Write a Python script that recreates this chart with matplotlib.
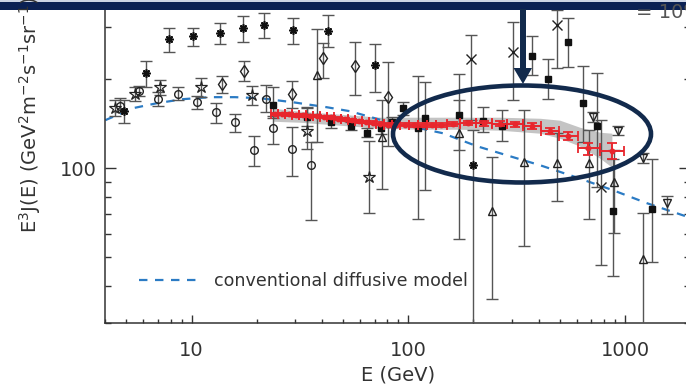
import numpy as np
import matplotlib
matplotlib.use("Agg")
import matplotlib.pyplot as plt
import matplotlib.ticker as mticker
from matplotlib.patches import Ellipse, Rectangle, Polygon

# conventional diffusive model
model_E = [4.0, 5.36, 6.92, 9.12, 12.15, 15.84, 20.7, 29.3, 42.1, 53.8, 75.5,
           101.7, 144.4, 207.3, 294.4, 404.9, 575.0, 879.5, 1262, 1910]
model_J = [145.3, 159.5, 165.8, 171.1, 173.8, 173.8, 172.4, 167.1, 160.7, 155.8,
           145.3, 138.7, 131.3, 118.7, 109.8, 102.4, 94.0, 84.3, 76.2, 68.8]

# red spectrum with systematic band
red_E = [24.2, 26.1, 28.1, 30.3, 32.6, 35.2, 37.9, 40.8, 44.0, 47.3, 51.0, 54.9,
         59.2, 63.7, 68.7, 74.0, 80.5, 87.7, 96.5, 106.1, 116.8, 128.5, 141.4,
         160.7, 188.4, 223.4, 264.7, 310.5, 371.9, 450.3, 545.1, 674.3, 870.2]
red_J = [152.2, 152.2, 151.9, 151.0, 151.0, 150.2, 149.9, 149.1, 148.4, 147.2,
         146.4, 145.3, 144.1, 143.3, 142.7, 141.6, 140.5, 140.3, 140.3, 139.9,
         139.7, 139.7, 139.7, 140.8, 142.2, 141.9, 141.4, 140.8, 139.4, 133.7,
         128.3, 116.6, 114.4]
red_err = [1.5, 1.5, 1.5, 1.5, 1.5, 1.5, 1.5, 1.5, 1.5, 1.5, 1.5, 1.5, 1.5, 1.5,
           1.5, 1.5, 1.5, 1.8, 1.8, 1.8, 2.0, 2.0, 2.0, 2.2, 2.5, 2.5, 3.0, 3.0,
           3.3, 3.3, 4.0, 5.5, 7.3]
band_E = [23.7, 31.6, 48.4, 74.0, 113.1, 173.0, 264.7, 404.9, 500.7, 619.4, 766.1, 870.2]
band_lo = [144.1, 143.0, 139.7, 136.5, 135.4, 135.4, 134.4, 131.3, 126.3, 118.7, 108.1, 100.8]
band_hi = [159.5, 155.8, 152.2, 148.7, 148.7, 148.7, 148.7, 147.5, 145.3, 137.5, 132.3, 131.3]

# other measurements: energy, value, lower and upper end of the error bar
ast_E = [4.87, 6.15, 7.86, 10.14, 13.51, 17.25, 21.56, 29.34, 42.6, 70.1, 198.7]
ast_J = [155.8, 209.4, 272.8, 279.2, 285.8, 297.2, 304.2, 292.6, 290.4, 222.8, 102.4]
ast_lo = [141.9, 187.8, 246.6, 258.4, 262.4, 266.5, 275.0, 262.4, 256.4, 180.6, 20]
ast_hi = [169.7, 229.9, 297.2, 297.2, 309.0, 326.2, 334.0, 321.2, 328.8, 262.4, 134.4]

circ_E = [4.67, 5.71, 6.99, 8.65, 10.58, 12.95, 15.84, 19.39, 22.03, 23.72, 29.03, 35.52]
circ_J = [162.0, 182.0, 171.1, 177.8, 167.1, 154.6, 143.0, 115.0, 171.1, 136.5, 115.9, 102.4]
circ_lo = [154.6, 175.1, 162.0, 169.7, 158.2, 141.9, 132.3, 101.6, 154.6, 120.5, 94.0, 66.7]
circ_hi = [172.4, 189.2, 180.6, 187.8, 175.1, 165.8, 152.2, 128.3, 190.7, 149.9, 137.5, 122.4]

diam_E = [13.80, 17.43, 29.03, 40.36, 56.7, 80.5]
diam_J = [192.2, 212.7, 177.8, 235.3, 221.1, 173.8]
diam_lo = [179.2, 196.7, 159.5, 201.4, 176.4, 118.7]
diam_hi = [204.5, 229.9, 196.7, 264.4, 266.5, 228.1]

star_E = [4.43, 5.47, 7.14, 11.04, 18.98, 34.04, 65.8]
star_J = [159.5, 177.8, 187.8, 187.8, 176.4, 133.4, 93.2]
star_lo = [149.9, 168.4, 176.4, 173.8, 163.3, 115.9, 70.5]
star_hi = [169.7, 187.8, 198.3, 201.4, 189.2, 160.7, 123.4]

tri_E = [37.86, 75.5, 171.2, 243.1, 341.6, 485.1, 681.6, 888.9, 1209]
tri_J = [206.2, 127.3, 131.3, 71.5, 104.8, 104.0, 104.0, 89.7, 49.3]
tri_lo = [122.4, 85.0, 57.6, 36.1, 54.5, 77.4, 67.3, 60.3, 20]
tri_hi = [294.9, 169.7, 169.7, 108.9, 157.0, 131.3, 134.4, 115.0, 70.5]

sq_E = [23.72, 34.04, 43.9, 54.3, 64.4, 74.7, 84.0, 94.4, 110.7, 119.3, 171.2,
        221.0, 270.4, 371.9, 440.9, 545.1, 639.4, 742.0, 879.5, 1331]
sq_J = [163.3, 148.7, 143.0, 138.7, 131.3, 136.5, 143.0, 159.5, 136.5, 147.5,
        151.0, 144.1, 138.7, 239.0, 199.8, 266.5, 165.8, 138.7, 71.5, 72.7]
sq_lo = [147.5, 138.7, 136.5, 134.4, 127.3, 130.3, 137.5, 151.0, 67.3, 84.3,
         115.0, 132.3, 123.4, 206.2, 171.1, 219.4, 122.4, 86.3, 43.2, 48.1]
sq_hi = [187.8, 159.5, 148.7, 143.0, 136.5, 141.9, 148.7, 167.1, 204.5, 195.2,
         207.8, 160.7, 157.0, 279.2, 233.4, 321.2, 221.1, 209.4, 107.3, 107.3]

x_E = [194.5, 303.9, 485.1, 774.2]
x_J = [233.4, 246.6, 304.2, 86.3]
x_lo = [145.3, 169.7, 217.7, 47.0]
x_hi = [281.4, 311.4, 341.9, 145.3]

dtri_E = [711.0, 930.0, 1209, 1561]
dtri_J = [148.7, 133.4, 108.1, 76.2]
dtri_lo = [143.0, 129.3, 104.0, 69.9]
dtri_hi = [154.6, 138.7, 112.4, 80.4]

ink = '#333333'
plt.rcParams['font.family'] = 'DejaVu Sans'

fig = plt.figure(figsize=(6.86, 3.86), dpi=100)
ax = fig.add_axes([105.3 / 686, 63 / 386, 584.9 / 686, 333 / 386])
ax.set_xscale('log')
ax.set_yscale('log')
ax.set_xlim(4, 2000)
ax.set_ylim(30, 400)

# systematic band and red points
ax.fill_between(band_E, band_lo, band_hi, color='#c4c4c4', lw=0, zorder=1)
rE = np.array(red_E)
mid = np.sqrt(rE[:-1] * rE[1:])
edges_lo = np.concatenate([[rE[0] ** 2 / mid[0]], mid])
edges_hi = np.concatenate([mid, [rE[-1] ** 2 / mid[-1]]])
ax.errorbar(rE, red_J, yerr=red_err, xerr=[rE - edges_lo, edges_hi - rE],
            fmt='o', color='#e8262d', ms=3.2, elinewidth=1.4, capsize=3.5,
            capthick=1.3, zorder=5)

ax.plot(model_E, model_J, color='#2b7bc4', lw=1.6, dashes=(3.8, 3.4), zorder=2,
        label='conventional diffusive model')


def draw(E, J, lo, hi, ecolor='#555555', **kw):
    E, J, lo, hi = map(np.asarray, (E, J, lo, hi))
    ax.errorbar(E, J, yerr=[J - lo, hi - J], fmt='none', ecolor=ecolor,
                elinewidth=1.0, capsize=4, capthick=1.0, zorder=3)
    ax.plot(E, J, linestyle='none', zorder=4, **kw)


draw(circ_E, circ_J, circ_lo, circ_hi, marker='o', ms=5.5, mfc='none', mec='#222', mew=1)
draw(diam_E, diam_J, diam_lo, diam_hi, marker='d', ms=6.5, mfc='none', mec='#222', mew=1)
draw(star_E, star_J, star_lo, star_hi, marker='*', ms=9, mfc='none', mec='#222', mew=0.9)
draw(ast_E, ast_J, ast_lo, ast_hi, marker=(8, 2, 0), ms=6, mec='#111', mew=1.2)
draw(tri_E, tri_J, tri_lo, tri_hi, marker='^', ms=5.5, mfc='none', mec='#222', mew=1)
draw(sq_E, sq_J, sq_lo, sq_hi, marker='s', ms=5, mfc='#111', mec='#111')
draw(x_E, x_J, x_lo, x_hi, marker='x', ms=7, mec='#222', mew=1)
draw(dtri_E, dtri_J, dtri_lo, dtri_hi, marker='v', ms=6, mfc='none', mec='#222', mew=1)

leg = ax.legend(loc='lower left', bbox_to_anchor=(0.058, 0.1), frameon=False,
                handlelength=3.4, handletextpad=0.9, borderpad=0, borderaxespad=0,
                prop={'size': 12.6})
for t in leg.get_texts():
    t.set_color(ink)

# axes styling
for s in ax.spines.values():
    s.set_color(ink)
    s.set_linewidth(1.1)
ax.tick_params(which='both', direction='in', top=True, right=True, colors=ink,
               labelsize=14)
ax.tick_params(axis='x', which='major', length=6, width=1, pad=13)
ax.tick_params(axis='x', which='minor', length=3, width=1)
ax.tick_params(axis='y', which='major', length=8, width=1, pad=6)
ax.tick_params(axis='y', which='minor', length=4.5, width=1)
fmt = mticker.FuncFormatter(lambda v, p: '%d' % round(v))
ax.xaxis.set_major_formatter(fmt)
ax.yaxis.set_major_formatter(fmt)
ax.xaxis.set_minor_formatter(mticker.NullFormatter())
ax.yaxis.set_minor_formatter(mticker.NullFormatter())
ax.set_xlabel('E (GeV)', fontsize=14, color=ink, labelpad=4)
fig.text(30 / 686, 153 / 386, r'E$^3$J(E) (GeV$^2$m$^{-2}$s$^{-1}$sr$^{-1}$)',
         rotation=90, ha='center', va='bottom', fontsize=14, color=ink)

# highlight overlay
ov = fig.add_axes([0, 0, 1, 1])
ov.set_xlim(0, 686)
ov.set_ylim(386, 0)
ov.axis('off')
navy = '#122a4c'
ov.text(636, 18, '= 10%', fontsize=14, color='#555555', va='baseline')
ov.add_patch(Rectangle((0, 0), 686, 9.5, color='#0b2153', lw=0))
ov.add_patch(Rectangle((0, 0), 686, 1.5, color='#cdd5e4', lw=0))
ov.add_patch(Rectangle((520, 9), 6, 60, color=navy, lw=0))
ov.add_patch(Polygon([(513.5, 68), (532, 68), (523, 84)], closed=True, color=navy, lw=0))
ov.add_patch(Ellipse((522, 134), 258, 97, fill=False, edgecolor=navy, lw=3.3))

fig.savefig('out.png', dpi=100)
